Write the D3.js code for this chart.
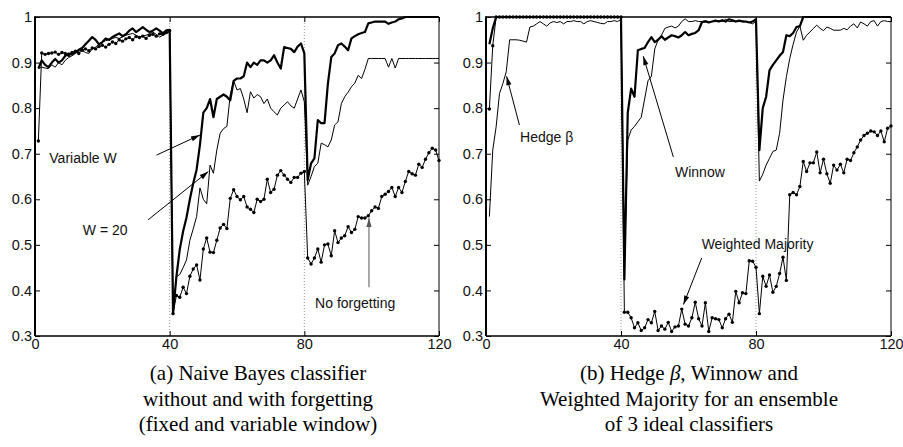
<!DOCTYPE html>
<html>
<head>
<meta charset="utf-8">
<script src="https://cdn.jsdelivr.net/npm/d3@7"></script>
<style>
  body { margin: 0; background: #fff; }
  svg { display: block; font-family: "Liberation Sans", Arial, sans-serif; }
  .cap { font-family: "Liberation Serif", "Times New Roman", serif; font-size: 21px; }
</style>
</head>
<body>
<svg id="chart" width="903" height="447"></svg>
<script>
// sample index (time step) shared by every series
const steps = d3.range(1, 121);
const xTicks = [0, 40, 80, 120];
const yTicks = [0.3, 0.4, 0.5, 0.6, 0.7, 0.8, 0.9, 1];

// (a) naive Bayes
const noForgetting = [
  0.728,0.921,0.918,0.920,0.921,0.923,0.918,0.922,0.920,0.916,
  0.922,0.925,0.920,0.927,0.930,0.926,0.932,0.930,0.935,0.938,
  0.934,0.940,0.945,0.942,0.950,0.947,0.952,0.955,0.950,0.957,
  0.955,0.958,0.953,0.960,0.962,0.958,0.963,0.962,0.966,0.970,
  0.349,0.389,0.385,0.407,0.393,0.431,0.447,0.456,0.423,0.491,
  0.515,0.484,0.483,0.510,0.537,0.545,0.536,0.602,0.621,0.606,
  0.599,0.606,0.583,0.578,0.571,0.600,0.595,0.600,0.644,0.615,
  0.622,0.653,0.663,0.653,0.644,0.637,0.648,0.648,0.657,0.661,
  0.471,0.458,0.471,0.491,0.462,0.500,0.502,0.476,0.531,0.505,
  0.515,0.520,0.540,0.527,0.534,0.562,0.559,0.559,0.564,0.575,
  0.583,0.580,0.606,0.611,0.617,0.626,0.606,0.626,0.615,0.639,
  0.661,0.656,0.653,0.677,0.670,0.688,0.702,0.712,0.708,0.685
];
const variableW = [
  0.887,0.905,0.895,0.890,0.900,0.908,0.900,0.905,0.915,0.920,
  0.918,0.923,0.928,0.932,0.940,0.948,0.956,0.950,0.940,0.945,
  0.953,0.950,0.956,0.960,0.964,0.958,0.962,0.970,0.975,0.967,
  0.972,0.978,0.972,0.967,0.970,0.975,0.970,0.964,0.971,0.972,
  0.349,0.430,0.490,0.530,0.560,0.600,0.635,0.665,0.720,0.790,
  0.800,0.820,0.780,0.820,0.825,0.830,0.825,0.817,0.860,0.865,
  0.865,0.870,0.900,0.890,0.900,0.895,0.905,0.905,0.900,0.905,
  0.916,0.900,0.887,0.934,0.932,0.930,0.923,0.935,0.942,0.920,
  0.642,0.679,0.690,0.774,0.767,0.767,0.854,0.912,0.920,0.938,
  0.942,0.935,0.927,0.953,0.958,0.962,0.965,0.967,0.986,0.988,
  0.990,0.990,0.990,0.990,0.985,0.988,0.990,0.995,0.997,1.000,
  1,1,1,1,1,1,1,1,1,1
];
const w20 = [
  0.887,0.890,0.888,0.887,0.895,0.890,0.900,0.895,0.905,0.911,
  0.915,0.920,0.925,0.927,0.922,0.920,0.930,0.934,0.940,0.945,
  0.948,0.950,0.953,0.955,0.953,0.956,0.960,0.962,0.964,0.960,
  0.956,0.958,0.960,0.963,0.967,0.962,0.956,0.960,0.964,0.967,
  0.349,0.430,0.435,0.450,0.467,0.510,0.535,0.562,0.625,0.600,
  0.590,0.675,0.657,0.708,0.745,0.755,0.760,0.830,0.860,0.840,
  0.843,0.820,0.790,0.836,0.822,0.830,0.825,0.810,0.820,0.800,
  0.792,0.785,0.800,0.807,0.814,0.805,0.800,0.820,0.840,0.814,
  0.631,0.650,0.672,0.679,0.723,0.720,0.715,0.730,0.763,0.770,
  0.810,0.825,0.835,0.847,0.855,0.872,0.865,0.885,0.909,0.909,
  0.909,0.909,0.909,0.909,0.890,0.909,0.888,0.909,0.909,0.909,
  0.909,0.909,0.909,0.909,0.909,0.909,0.909,0.909,0.909,0.909
];

// (b) ensemble methods
const weightedMajority = [
  0.798,0.937,1,1,1,1,1,1,1,1,
  1,1,1,1,1,1,1,1,1,1,
  1,1,1,1,1,1,1,1,1,1,
  1,1,1,1,1,1,1,1,1,1,
  0.352,0.352,0.340,0.318,0.329,0.312,0.318,0.336,0.329,0.354,
  0.312,0.322,0.315,0.330,0.310,0.320,0.322,0.359,0.326,0.322,
  0.340,0.374,0.338,0.322,0.373,0.310,0.340,0.338,0.336,0.318,
  0.338,0.348,0.330,0.398,0.373,0.395,0.393,0.465,0.464,0.451,
  0.349,0.431,0.409,0.434,0.396,0.409,0.437,0.473,0.422,0.610,
  0.615,0.610,0.628,0.683,0.661,0.680,0.680,0.704,0.658,0.688,
  0.656,0.635,0.675,0.664,0.677,0.658,0.688,0.685,0.702,0.715,
  0.730,0.740,0.745,0.750,0.748,0.740,0.750,0.726,0.756,0.761
];
const winnow = [
  0.940,0.975,1,1,1,1,1,1,1,1,
  1,1,1,1,1,1,1,1,1,1,
  1,1,1,1,1,1,1,1,1,1,
  1,1,1,1,1,1,1,1,1,1,
  0.424,0.790,0.843,0.825,0.927,0.930,0.932,0.945,0.956,0.945,
  0.950,0.958,0.950,0.955,0.960,0.958,0.955,0.960,0.967,0.960,
  0.963,0.965,0.971,0.989,0.990,0.988,0.990,0.992,0.990,0.993,
  0.990,0.995,0.993,0.990,0.992,0.990,0.990,0.988,0.990,0.995,
  0.708,0.800,0.825,0.883,0.895,0.905,0.915,0.923,0.960,0.958,
  0.965,0.978,0.980,1,1,1,1,1,1,1,
  1,1,1,1,1,1,1,1,1,1,
  1,1,1,1,1,1,1,1,1,1
];
const hedge = [
  0.562,0.708,0.759,0.832,0.854,0.880,0.950,0.950,0.950,0.949,
  0.947,0.945,0.978,0.980,0.985,0.990,0.985,0.980,0.987,0.990,
  0.988,0.990,0.985,0.990,0.990,0.992,0.990,0.990,0.985,0.990,
  0.992,0.990,0.988,0.986,0.985,0.990,0.990,0.992,0.990,0.995,
  0.450,0.730,0.752,0.760,0.770,0.780,0.820,0.860,0.870,0.930,
  0.950,0.960,0.975,0.978,0.980,0.976,0.980,0.990,0.996,0.990,
  0.990,0.992,0.990,0.990,0.992,0.990,0.990,0.990,0.992,0.990,
  0.995,0.990,0.990,0.990,0.990,0.992,0.990,0.988,0.985,0.990,
  0.640,0.655,0.675,0.690,0.705,0.708,0.745,0.818,0.869,0.909,
  0.940,0.967,0.980,0.949,0.960,0.967,0.975,0.982,0.975,0.970,
  0.978,0.975,0.971,0.971,0.971,0.975,0.972,0.980,0.985,0.976,
  0.989,0.985,0.980,0.990,0.992,0.980,0.990,0.992,0.990,0.990
];

const svg = d3.select("#chart");
svg.append("rect").attr("width", 903).attr("height", 447).attr("fill", "#fff");

// arrow heads for the annotations
const defs = svg.append("defs");
function arrowMarker(id, color) {
  defs.append("marker")
    .attr("id", id)
    .attr("viewBox", "-10 -5 11 10")
    .attr("refX", 0).attr("refY", 0)
    .attr("markerWidth", 11).attr("markerHeight", 10)
    .attr("markerUnits", "userSpaceOnUse")
    .attr("orient", "auto")
    .append("path")
    .attr("d", "M0,0L-9,-2.6L-9,2.6Z")
    .attr("fill", color);
}
arrowMarker("headK", "#000");
arrowMarker("headG", "#555");

const fmtY = d => d === 1 ? "1" : d3.format(".1f")(d);

function drawPanel(left, right, series, notes) {
  const x = d3.scaleLinear().domain([0, 120]).range([left, right]);
  const y = d3.scaleLinear().domain([0.3, 1]).range([336, 17]);
  const g = svg.append("g");

  // dotted x grid (only the inner lines show)
  g.append("g").selectAll("line")
    .data(xTicks.slice(1, -1))
    .join("line")
    .attr("x1", d => x(d)).attr("x2", d => x(d))
    .attr("y1", y(0.3)).attr("y2", y(1))
    .attr("stroke", "#999")
    .attr("stroke-width", 1)
    .attr("stroke-dasharray", "1,2");

  // data lines
  const line = d3.line().x((d, i) => x(steps[i])).y(d => y(d));
  series.forEach(s => {
    g.append("path")
      .datum(s.values)
      .attr("d", line)
      .attr("fill", "none")
      .attr("stroke", "#000")
      .attr("stroke-width", s.width)
      .attr("stroke-linejoin", "round");
    if (s.dots) {
      g.append("g").selectAll("circle")
        .data(s.values)
        .join("circle")
        .attr("cx", (d, i) => x(steps[i]))
        .attr("cy", d => y(d))
        .attr("r", 1.7)
        .attr("fill", "#000");
    }
  });

  // axes, ticks pointing inwards (matlab style)
  const styleAxis = a => {
    a.attr("font-size", 14.5).attr("font-family", null);
    a.select(".domain").remove();
    a.selectAll("line").attr("stroke", "#000");
    a.selectAll("text").attr("fill", "#111");
  };
  g.append("g").attr("transform", `translate(${left},0)`)
    .call(d3.axisLeft(y).tickValues(yTicks).tickSize(-5).tickPadding(3).tickFormat(fmtY))
    .call(styleAxis);
  g.append("g").attr("transform", `translate(${right},0)`)
    .call(d3.axisRight(y).tickValues(yTicks).tickSize(-5).tickFormat(""))
    .call(styleAxis);
  g.append("g").attr("transform", `translate(0,${y(1)})`)
    .call(d3.axisTop(x).tickValues(xTicks).tickSize(-5).tickFormat(""))
    .call(styleAxis);
  g.append("g").attr("transform", `translate(0,${y(0.3)})`)
    .call(d3.axisBottom(x).tickValues(xTicks).tickSize(-5).tickPadding(3))
    .call(styleAxis);

  // box
  const edge = (x1, y1, x2, y2, w) => g.append("line")
    .attr("x1", x1).attr("y1", y1).attr("x2", x2).attr("y2", y2)
    .attr("stroke", "#000").attr("stroke-width", w);
  edge(left, y(0.3), left, y(1) - 0.7, 2);
  edge(left, y(1), right, y(1), 1.5);
  edge(right, y(1), right, y(0.3), 1);
  edge(left, y(0.3), right, y(0.3), 1.3);

  // annotations (positions in data units)
  notes.forEach(n => {
    g.append("text")
      .attr("x", x(n.tx)).attr("y", y(n.ty))
      .attr("font-size", 14)
      .attr("fill", "#111")
      .text(n.label);
    g.append("line")
      .attr("x1", x(n.from[0])).attr("y1", y(n.from[1]))
      .attr("x2", x(n.to[0])).attr("y2", y(n.to[1]))
      .attr("stroke", n.grey ? "#555" : "#000")
      .attr("stroke-width", 1)
      .attr("marker-end", n.grey ? "url(#headG)" : "url(#headK)");
  });
}

drawPanel(35, 439, [
  { values: noForgetting, width: 1, dots: true },
  { values: w20, width: 1 },
  { values: variableW, width: 2.2 }
], [
  { label: "Variable W", tx: 4.25, ty: 0.680, from: [36.1, 0.697], to: [49.0, 0.741] },
  { label: "W = 20", tx: 14.2, ty: 0.522, from: [33.6, 0.555], to: [51.5, 0.661] },
  { label: "No forgetting", tx: 83.2, ty: 0.361, from: [99.2, 0.407], to: [99.2, 0.559], grey: true }
]);

drawPanel(486, 891, [
  { values: weightedMajority, width: 1, dots: true },
  { values: hedge, width: 1 },
  { values: winnow, width: 2.2 }
], [
  { label: "Hedge \u03B2", tx: 10.1, ty: 0.726, from: [9.9, 0.763], to: [6.1, 0.870] },
  { label: "Winnow", tx: 56, ty: 0.650, from: [55.5, 0.693], to: [46.6, 0.914] },
  { label: "Weighted Majority", tx: 63.9, ty: 0.491, from: [63.9, 0.471], to: [58.5, 0.369] }
]);

// sub-figure captions
const captionA = ["(a) Naive Bayes classifier", "without and with forgetting", "(fixed and variable window)"];
const captionB = [["(b) Hedge ", "\u03B2", ", Winnow and"], ["Weighted Majority for an ensemble"], ["of 3 ideal classifiers"]];

const capA = svg.append("text").attr("class", "cap").attr("text-anchor", "middle");
captionA.forEach((t, i) => capA.append("tspan").attr("x", 258).attr("y", 380 + i * 25.5).text(t));
const capB = svg.append("text").attr("class", "cap").attr("text-anchor", "middle");
captionB.forEach((parts, i) => {
  parts.forEach((t, j) => {
    const ts = capB.append("tspan").text(t);
    if (j === 0) ts.attr("x", 689).attr("y", 380 + i * 25.5);
    if (t === "\u03B2") ts.attr("font-style", "italic");
  });
});
</script>
</body>
</html>
